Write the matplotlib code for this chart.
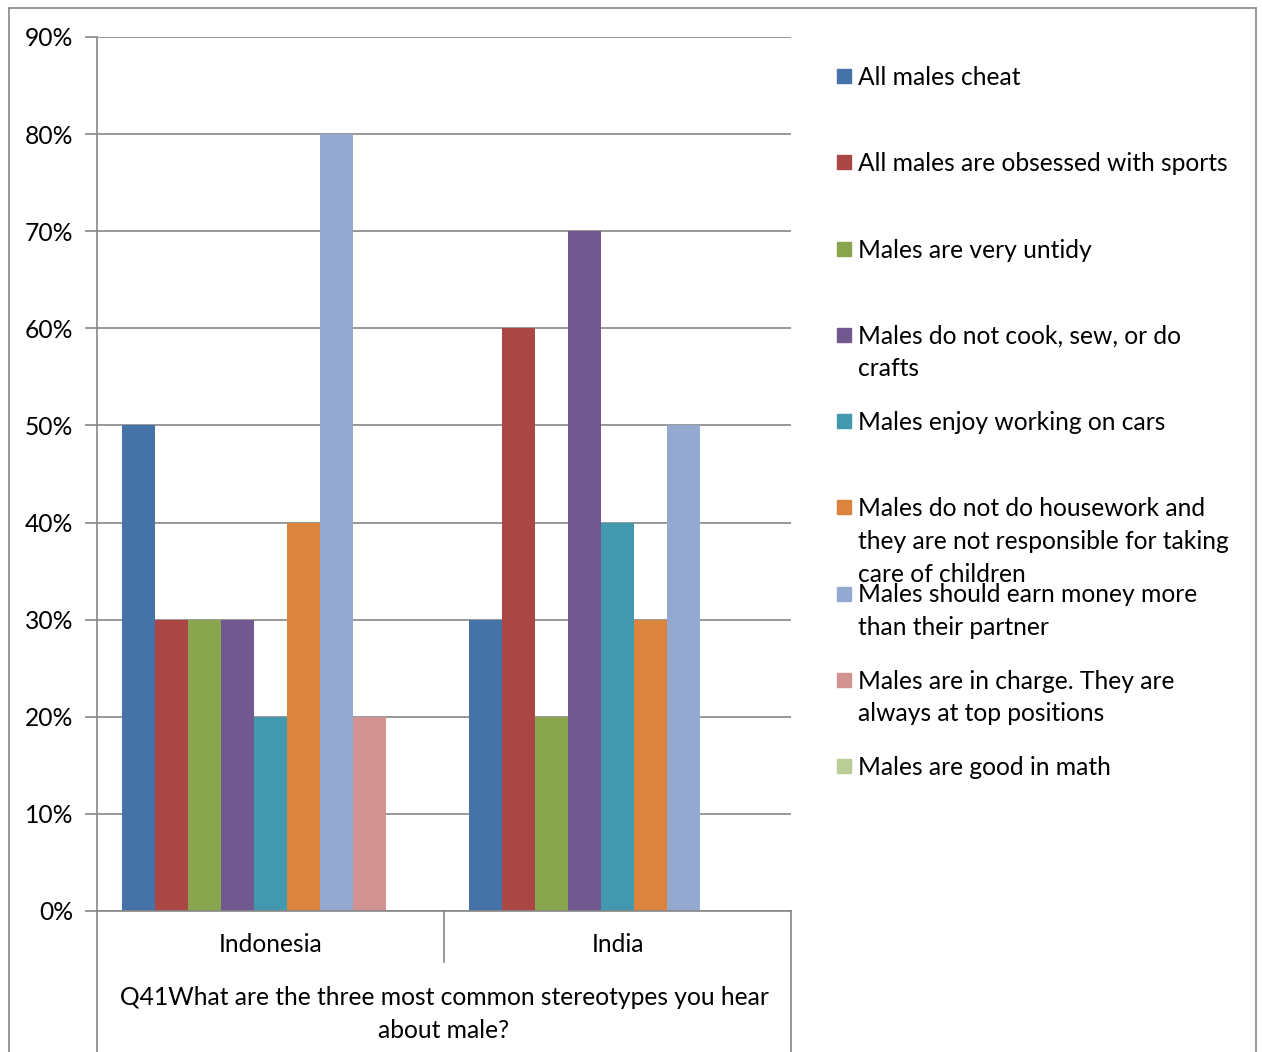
"""
Q41 male stereotypes - Indonesia vs India clustered bars
"""
import matplotlib.pyplot as plt
from matplotlib.lines import Line2D
from matplotlib.patches import Rectangle

countries = ['Indonesia', 'India']
series = ['All males cheat',
          'All males are obsessed with sports',
          'Males are very untidy',
          'Males do not cook, sew, or do\ncrafts',
          'Males enjoy working on cars',
          'Males do not do housework and\nthey are not responsible for taking\ncare of children',
          'Males should earn money more\nthan their partner',
          'Males are in charge. They are\nalways at top positions',
          'Males are good in math']
indonesia = [0.50, 0.30, 0.30, 0.30, 0.20, 0.40, 0.80, 0.20, 0.0]
india = [0.30, 0.60, 0.20, 0.70, 0.40, 0.30, 0.50, 0.0, 0.0]
colors = ['#4572A7', '#AA4643', '#89A54E', '#71588F', '#4198AF',
          '#DB843D', '#93A9CF', '#D19392', '#B9CD96']
yticks = [0.0, 0.1, 0.2, 0.3, 0.4, 0.5, 0.6, 0.7, 0.8, 0.9]
title = 'Q41What are the three most common stereotypes you hear\nabout male?'

plt.rcParams['font.family'] = ['Lato', 'DejaVu Sans']
FS = 17.7
LS = 1.51
GRAY = '#868686'
W, H = 1262, 1052

fig = plt.figure(figsize=(W / 100, H / 100), dpi=100)

def px(x, y):
    return x / W, 1 - y / H

# plot area in pixels: x 97..791, y 37..911
ax = fig.add_axes([97 / W, 1 - 911 / H, (791 - 97) / W, (911 - 37) / H])
slot = 347.0
bw = 33 / slot
pad = 25 / slot
for j, (name, c) in enumerate(zip(series, colors)):
    vals = [indonesia[j], india[j]]
    xs = [g + pad + j * bw + bw / 2 for g in range(len(countries))]
    ax.bar(xs, vals, width=bw, color=c, linewidth=0, zorder=2)

ax.set_xlim(0, 2)
ax.set_ylim(0, 0.9)
ax.set_yticks(yticks)
ax.set_yticklabels([f'{int(round(v * 100))}%' for v in yticks], fontsize=FS)
ax.set_xticks([])
ax.yaxis.grid(True, color=GRAY, linewidth=1.2, zorder=0)
ax.tick_params(axis='y', length=9, width=1.2, color=GRAY, pad=8)
for s in ['top', 'right']:
    ax.spines[s].set_visible(False)
for s in ['left', 'bottom']:
    ax.spines[s].set_color(GRAY)
    ax.spines[s].set_linewidth(1.2)
ax.set_axisbelow(True)

# category axis separators
def vline(x, y0, y1):
    x0, a = px(x, y0)
    _, b = px(x, y1)
    fig.add_artist(Line2D([x0, x0], [a, b], color=GRAY, linewidth=1.2))

vline(97, 911, 1052)
vline(444, 911, 962)
vline(791, 911, 1052)

for i, name in enumerate(countries):
    fig.text(*px(97 + slot * i + slot / 2, 945), name, fontsize=FS,
             ha='center', va='center')
fig.text(*px(444, 1014), title, fontsize=FS, ha='center', va='center',
         linespacing=LS)

# outer chart border
x0, y0 = px(9, 8)
x1, _ = px(1256, 8)
fig.add_artist(Line2D([x0, x1], [y0, y0], color=GRAY, linewidth=1.2))
fig.add_artist(Line2D([x0, x0], [y0, 0], color=GRAY, linewidth=1.2))
fig.add_artist(Line2D([x1, x1], [y0, 0], color=GRAY, linewidth=1.2))

# legend, entries every 86 px
for j, (name, c) in enumerate(zip(series, colors)):
    y = 76 + j * 86.25
    lx, ly = px(837, y + 7)
    fig.add_artist(Rectangle((lx, ly), 14 / W, 14 / H, color=c,
                             transform=fig.transFigure))
    fig.text(*px(858, y - 10), name, fontsize=FS, ha='left', va='top',
             linespacing=LS)

plt.savefig('out.png', dpi=100)
plt.close()
